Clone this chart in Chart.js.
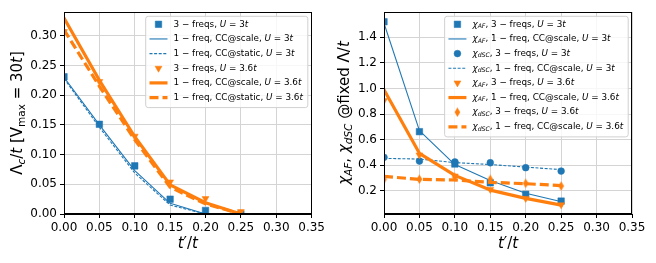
<!DOCTYPE html>
<html><head><meta charset="utf-8">
<script src="https://cdn.jsdelivr.net/npm/chart.js@4.4.1/dist/chart.umd.min.js"></script>
<style>
html,body{margin:0;padding:0;background:#fff;overflow:hidden}
#wrap{position:relative;width:656px;height:263px;background:#fff}
canvas{position:absolute;top:0}
</style></head><body>
<div id="wrap">
<canvas id="c1" width="328" height="263" style="left:0"></canvas>
<canvas id="c2" width="328" height="263" style="left:328px"></canvas>
</div>
<script>
// ---------- data ----------
const tValues = [0, 0.05, 0.10, 0.15, 0.20, 0.25];
const xTicks = [0, 0.05, 0.10, 0.15, 0.20, 0.25, 0.30, 0.35];
const leftYTicks = [0, 0.05, 0.10, 0.15, 0.20, 0.25, 0.30];
const rightYTicks = [0.2, 0.4, 0.6, 0.8, 1.0, 1.2, 1.4];

// left panel: Lambda_c / t
const lambda3fU3      = [0.231, 0.151, 0.081, 0.025, 0.006, 0.000];
const lambdaScaleU3   = [0.230, 0.150, 0.073, 0.018, 0.000, 0.000];
const lambdaStaticU3  = [0.228, 0.146, 0.069, 0.015, 0.000, 0.000];
const lambda3fU36     = [0.307, 0.223, 0.131, 0.054, 0.026, 0.004];
const lambdaScaleU36  = [0.330, 0.225, 0.130, 0.049, 0.019, 0.000];
const lambdaStaticU36 = [0.310, 0.215, 0.125, 0.045, 0.017, 0.000];

// right panel: chi_AF, chi_dSC
const chiAF3fU3      = [1.522, 0.662, 0.409, 0.262, 0.172, 0.119];
const chiAFScaleU3   = [1.510, 0.670, 0.405, 0.280, 0.180, 0.115];
const chiDSC3fU3     = [0.461, 0.432, 0.425, 0.419, 0.380, 0.354];
const chiDSCScaleU3  = [0.453, 0.448, 0.420, 0.405, 0.385, 0.365];
const chiAF3fU36     = [0.905, 0.480, 0.315, 0.210, 0.140, 0.090];
const chiAFScaleU36  = [0.990, 0.493, 0.320, 0.205, 0.140, 0.088];
const chiDSC3fU36    = [0.289, 0.290, 0.305, 0.289, 0.258, 0.237];
const chiDSCScaleU36 = [0.312, 0.289, 0.284, 0.266, 0.255, 0.240];

// labels (~x~ italic, _[x] italic subscript, _(x) upright subscript)
const leftLabels = [
  "3 − freqs, ~U~ = 3~t~",
  "1 − freq, CC@scale, ~U~ = 3~t~",
  "1 − freq, CC@static, ~U~ = 3~t~",
  "3 − freqs, ~U~ = 3.6~t~",
  "1 − freq, CC@scale, ~U~ = 3.6~t~",
  "1 − freq, CC@static, ~U~ = 3.6~t~"
];
const rightLabels = [
  "~χ~_[AF], 3 − freqs, ~U~ = 3~t~",
  "~χ~_[AF], 1 − freq, CC@scale, ~U~ = 3~t~",
  "~χ~_[dSC], 3 − freqs, ~U~ = 3~t~",
  "~χ~_[dSC], 1 − freq, CC@scale, ~U~ = 3~t~",
  "~χ~_[AF], 3 − freqs, ~U~ = 3.6~t~",
  "~χ~_[AF], 1 − freq, CC@scale, ~U~ = 3.6~t~",
  "~χ~_[dSC], 3 − freqs, ~U~ = 3.6~t~",
  "~χ~_[dSC], 1 − freq, CC@scale, ~U~ = 3.6~t~"
];
const xTitle = "~t~′/~t~";
const leftYTitle = "Λ_[c]/~t~ [V_(max) = 30~t~]";
const rightYTitle = "~χ~_[AF], ~χ~_[dSC] @fixed Λ/~t~";

// ---------- styling ----------
const BLUE = '#1f77b4', ORANGE = '#ff7f0e';
const FONT = "'DejaVu Sans', 'Liberation Sans', sans-serif";
const TICK_SIZE = 12, TITLE_SIZE = 15, LEGEND_SIZE = 8.8;

function thinDiamond(color) {
  const c = document.createElement('canvas');
  c.width = 7; c.height = 10;
  const g = c.getContext('2d');
  g.fillStyle = color;
  g.beginPath();
  g.moveTo(3.5, 0.3); g.lineTo(6.3, 5); g.lineTo(3.5, 9.7); g.lineTo(0.7, 5);
  g.closePath(); g.fill();
  return c;
}

function stripMarkup(s) {
  return s.replace(/~([^~]+)~/g, '$1').replace(/_\[([^\]]+)\]/g, '$1').replace(/_\(([^)]+)\)/g, '$1');
}
function parseRich(s) {
  const re = /~([^~]+)~|_\[([^\]]+)\]|_\(([^)]+)\)/g;
  const out = []; let last = 0, m;
  while ((m = re.exec(s)) !== null) {
    if (m.index > last) out.push({t: s.slice(last, m.index), it: false, sub: false});
    if (m[1] !== undefined) out.push({t: m[1], it: true, sub: false});
    else if (m[2] !== undefined) out.push({t: m[2], it: true, sub: true});
    else out.push({t: m[3], it: false, sub: true});
    last = re.lastIndex;
  }
  if (last < s.length) out.push({t: s.slice(last), it: false, sub: false});
  return out;
}
function segFont(seg, size) {
  return (seg.it ? 'italic ' : '') + (seg.sub ? size * 0.7 : size) + 'px ' + FONT;
}
function measureRich(ctx, s, size) {
  let w = 0;
  for (const seg of parseRich(s)) { ctx.font = segFont(seg, size); w += ctx.measureText(seg.t).width; }
  return w;
}
function drawRich(ctx, s, x, y, size, align) {
  const w = measureRich(ctx, s, size);
  let cx = align === 'center' ? x - w / 2 : x;
  ctx.textBaseline = 'middle';
  ctx.textAlign = 'left';
  ctx.fillStyle = '#000';
  for (const seg of parseRich(s)) {
    ctx.font = segFont(seg, size);
    ctx.fillText(seg.t, cx, seg.sub ? y + size * 0.26 : y);
    cx += ctx.measureText(seg.t).width;
  }
}

function makeDatasets(series, labels) {
  return series.map((sp, i) => {
    const base = {
      label: stripMarkup(labels[i]),
      data: tValues.map((x, k) => ({x: x, y: sp.data[k]})),
      order: -i,
      borderColor: sp.color,
      backgroundColor: sp.color,
      tension: 0,
      fill: false
    };
    if (sp.marker) {
      Object.assign(base, {
        showLine: false,
        pointStyle: sp.marker,
        pointRotation: sp.rot || 0,
        pointRadius: sp.r,
        pointHoverRadius: sp.r,
        pointBackgroundColor: sp.color,
        pointBorderColor: sp.color,
        pointBorderWidth: 0.5
      });
    } else {
      Object.assign(base, {
        showLine: true,
        pointRadius: 0,
        pointHoverRadius: 0,
        borderWidth: sp.lw,
        borderDash: sp.dash || [],
        borderCapStyle: sp.dash ? 'butt' : 'square',
        borderJoinStyle: 'round'
      });
    }
    return base;
  });
}

function legendMarker(ctx, sp, x, y) {
  ctx.save();
  ctx.fillStyle = sp.color; ctx.strokeStyle = sp.color; ctx.lineWidth = 0.5;
  Chart.helpers.drawPoint(ctx, {pointStyle: sp.marker, rotation: sp.rot || 0, radius: sp.r, borderWidth: 0.5}, x, y);
  ctx.restore();
}

function decorPlugin(series, labels, yTitle, yTitleX) {
  return {
    id: 'decor',
    afterDraw(chart) {
      const ctx = chart.ctx, a = chart.chartArea;
      ctx.save();
      // spines
      ctx.strokeStyle = '#000'; ctx.lineWidth = 1;
      ctx.strokeRect(Math.round(a.left) + 0.5, Math.round(a.top) + 0.5,
                     Math.round(a.right) - Math.round(a.left) - 1, Math.round(a.bottom) - Math.round(a.top) - 1);
      // axis titles
      drawRich(ctx, xTitle, (a.left + a.right) / 2, 244, TITLE_SIZE, 'center');
      ctx.save();
      ctx.translate(yTitleX, (a.top + a.bottom) / 2);
      ctx.rotate(-Math.PI / 2);
      drawRich(ctx, yTitle, 0, 0, TITLE_SIZE, 'center');
      ctx.restore();
      // legend
      const fs = LEGEND_SIZE;
      const maxW = Math.max(...labels.map(l => measureRich(ctx, l, fs)));
      const padL = 4.3, handle = 18, gap = 6, padR = 4.5;
      const w = padL + handle + gap + maxW + padR;
      const rowH = 14.65;
      const h = labels.length * rowH + 3.4;
      const right = a.right - 4.3, top = a.top + 3.8;
      const left = right - w;
      ctx.beginPath();
      if (ctx.roundRect) ctx.roundRect(left + 0.5, top + 0.5, w, h, 2.5); else ctx.rect(left + 0.5, top + 0.5, w, h);
      ctx.fillStyle = 'rgba(255,255,255,0.8)';
      ctx.fill();
      ctx.strokeStyle = '#d0d0d0'; ctx.lineWidth = 1;
      ctx.stroke();
      labels.forEach((l, i) => {
        const cy = top + 8.5 + i * rowH;
        const sp = series[i];
        const hx = left + padL;
        if (sp.marker) {
          legendMarker(ctx, sp, hx + handle / 2, cy);
        } else {
          ctx.save();
          ctx.strokeStyle = sp.color; ctx.lineWidth = sp.lw;
          ctx.setLineDash(sp.dash || []);
          ctx.lineCap = 'butt';
          ctx.beginPath(); ctx.moveTo(hx, cy); ctx.lineTo(hx + handle, cy); ctx.stroke();
          ctx.restore();
        }
        drawRich(ctx, l, hx + handle + gap, cy, fs, 'left');
      });
      ctx.restore();
    }
  };
}

function scaleOpts(min, max, ticks, digits, fitKey, fitVal) {
  return {
    type: 'linear', min: min, max: max,
    afterBuildTicks(axis) { axis.ticks = ticks.map(v => ({value: v})); },
    afterFit(axis) { axis[fitKey] = fitVal; },
    ticks: {
      callback: v => Number(v).toFixed(digits),
      color: '#000', font: {family: FONT, size: TICK_SIZE}, padding: 3,
      autoSkip: false, maxRotation: 0, minRotation: 0
    },
    grid: {color: '#d4d4d4', lineWidth: 1, tickColor: '#000', tickLength: 4, drawTicks: true},
    border: {color: '#000', width: 1}
  };
}

function makeChart(id, series, labels, yMin, yMax, yTicks, yDigits, yAxisW, padRight, yTitle, yTitleX) {
  return new Chart(document.getElementById(id), {
    type: 'line',
    data: {datasets: makeDatasets(series, labels)},
    options: {
      responsive: false, animation: false, devicePixelRatio: 1,
      layout: {padding: {top: 12, right: padRight, left: 0, bottom: 0}},
      plugins: {legend: {display: false}, tooltip: {enabled: false}},
      scales: {
        x: scaleOpts(0, 0.35, xTicks, 2, 'height', 49),
        y: scaleOpts(yMin, yMax, yTicks, yDigits, 'width', yAxisW)
      }
    },
    plugins: [decorPlugin(series, labels, yTitle, yTitleX)]
  });
}

const DIAMOND = thinDiamond(ORANGE);
const leftSeries = [
  {data: lambda3fU3, color: BLUE, marker: 'rect', r: 4.6},
  {data: lambdaScaleU3, color: BLUE, lw: 1.1},
  {data: lambdaStaticU3, color: BLUE, lw: 1.1, dash: [3, 1.6]},
  {data: lambda3fU36, color: ORANGE, marker: 'triangle', rot: 180, r: 4},
  {data: lambdaScaleU36, color: ORANGE, lw: 3.2},
  {data: lambdaStaticU36, color: ORANGE, lw: 3.2, dash: [9, 4]}
];
const rightSeries = [
  {data: chiAF3fU3, color: BLUE, marker: 'rect', r: 4.6},
  {data: chiAFScaleU3, color: BLUE, lw: 1.1},
  {data: chiDSC3fU3, color: BLUE, marker: 'circle', r: 3.4},
  {data: chiDSCScaleU3, color: BLUE, lw: 1.1, dash: [3, 1.6]},
  {data: chiAF3fU36, color: ORANGE, marker: 'triangle', rot: 180, r: 4},
  {data: chiAFScaleU36, color: ORANGE, lw: 3.2},
  {data: chiDSC3fU36, color: ORANGE, marker: DIAMOND, r: 4},
  {data: chiDSCScaleU36, color: ORANGE, lw: 3.2, dash: [9, 4]}
];

makeChart('c1', leftSeries, leftLabels, 0, 0.34, leftYTicks, 2, 64, 16, leftYTitle, 18);
makeChart('c2', rightSeries, rightLabels, 0.018, 1.598, rightYTicks, 1, 56, 24, rightYTitle, 17);
</script>
</body></html>
